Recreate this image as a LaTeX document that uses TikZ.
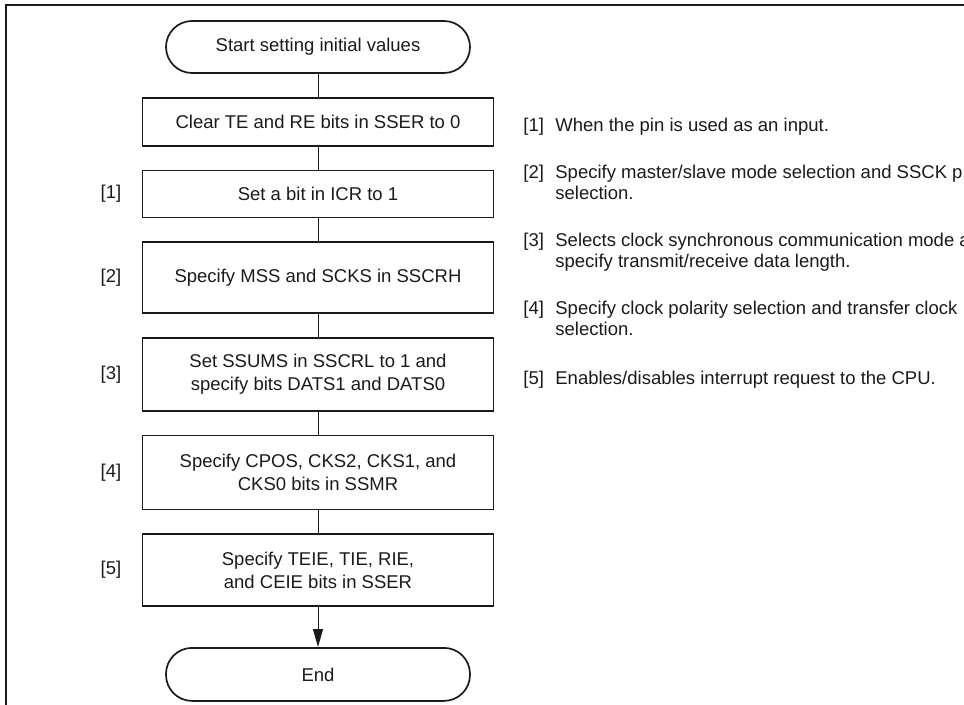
\documentclass[tikz,border=0pt]{standalone}
\usepackage{fontspec}
\setmainfont{Liberation Sans}
\usepackage{tikz}
\usetikzlibrary{arrows.meta,positioning}
\definecolor{Ink}{HTML}{1A1A1A}
\tikzset{
  every node/.append style={text=Ink, font=\fontsize{9.25}{11.5}\selectfont},
  stepbox/.style={draw=Ink, line width=0.85pt, align=center,
              minimum width=175.5pt, inner sep=2pt},
  term/.style={stepbox, minimum width=152pt, minimum height=26pt, rounded corners=13pt},
  link/.style={draw=Ink, line width=0.5pt},
  arrow/.style={link, -{Triangle[length=9pt,width=5pt]}},
  num/.style={inner sep=0pt},
  note/.style={inner sep=0pt, anchor=base west, align=left,
               font=\fontsize{9.25}{10.75}\selectfont},
  frame/.style={draw=Ink, line width=1.3pt},
}
\begin{document}
\begin{tikzpicture}[node distance=11.5pt]
  \useasboundingbox (0,0) rectangle (482pt,-352.5pt);
  \draw[frame] (3pt,-352.5pt) -- (3pt,-2.5pt) -- (482pt,-2.5pt);
  % flow
  \node[term] (start) at (159pt,-23.5pt) {Start setting initial values};
  \node[stepbox, below=of start, minimum height=24pt] (clr) {Clear TE and RE bits in SSER to 0};
  \node[stepbox, below=of clr, minimum height=23.5pt] (icr) {Set a bit in ICR to 1};
  \node[stepbox, below=of icr, minimum height=35.5pt] (sscrh) {Specify MSS and SCKS in SSCRH};
  \node[stepbox, below=of sscrh, minimum height=36.5pt] (sscrl) {Set SSUMS in SSCRL to 1 and\\specify bits DATS1 and DATS0};
  \node[stepbox, below=of sscrl, minimum height=37pt] (ssmr) {Specify CPOS, CKS2, CKS1, and\\CKS0 bits in SSMR};
  \node[stepbox, below=of ssmr, minimum height=36pt] (sser) {Specify TEIE, TIE, RIE,\\and CEIE bits in SSER};
  \node[term, below=20pt of sser, minimum height=26.5pt] (end) {End};
  \draw[link] (start)--(clr);
  \draw[link] (clr)--(icr);
  \draw[link] (icr)--(sscrh);
  \draw[link] (sscrh)--(sscrl);
  \draw[link] (sscrl)--(ssmr);
  \draw[link] (ssmr)--(sser);
  \draw[arrow] (sser)--(end);
  % step marks
  \node[num, left=10pt of icr] (m1) {[1]};
  \node[num, left=10pt of sscrh] (m2) {[2]};
  \node[num, left=10pt of sscrl] (m3) {[3]};
  \node[num, left=10pt of ssmr] (m4) {[4]};
  \node[num, left=10pt of sser] (m5) {[5]};
  % notes (base of a two-line note is its last line)
  \node[note] (n1) at (261.5pt,-65.8pt) {[1]};
  \node[note] (t1) at (277.5pt,-65.8pt) {When the pin is used as an input.};
  \node[note] (n2) at (261.5pt,-89.3pt) {[2]};
  \node[note] (t2) at (277.5pt,-100pt) {Specify master/slave mode selection and SSCK p\\selection.};
  \node[note] (n3) at (261.5pt,-123.3pt) {[3]};
  \node[note] (t3) at (277.5pt,-134pt) {Selects clock synchronous communication mode a\\specify transmit/receive data length.};
  \node[note] (n4) at (261.5pt,-157.3pt) {[4]};
  \node[note] (t4) at (277.5pt,-168pt) {Specify clock polarity selection and transfer clock\\selection.};
  \node[note] (n5) at (261.5pt,-192.3pt) {[5]};
  \node[note] (t5) at (277.5pt,-192.3pt) {Enables/disables interrupt request to the CPU.};
\end{tikzpicture}
\end{document}
